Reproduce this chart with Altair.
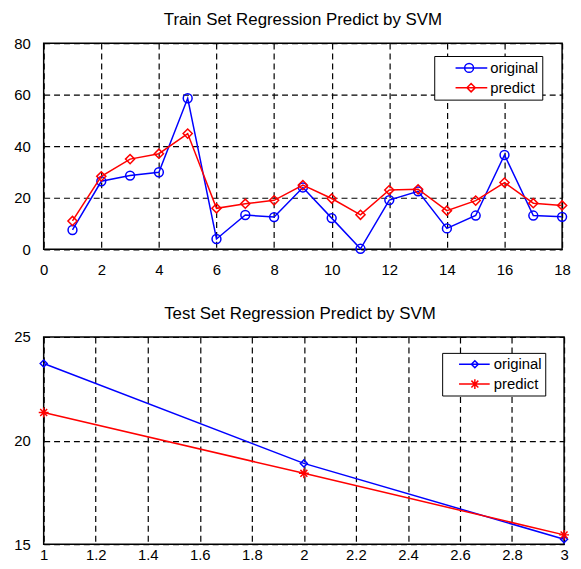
import altair as alt
import pandas as pd

# ---------------- data ----------------
series_names = ["original", "predict"]
series_colors = ["#0000ff", "#ff0000"]

train_x = list(range(1, 19))
train_original = [7.5, 26.4, 28.6, 29.9, 58.6, 4.0, 13.3, 12.5, 24.0, 12.1,
                  0.2, 19.1, 22.5, 8.1, 13.1, 36.6, 13.1, 12.6]
train_predict = [11.0, 28.3, 35.0, 37.1, 44.9, 15.9, 17.7, 19.0, 24.9, 19.7,
                 13.4, 23.0, 23.3, 15.0, 18.9, 25.9, 17.9, 17.0]
train_x_ticks = [0, 2, 4, 6, 8, 10, 12, 14, 16, 18]
train_y_ticks = [0, 20, 40, 60, 80]

test_x = [1, 2, 3]
test_original = [23.72, 18.9, 15.24]
test_predict = [21.36, 18.42, 15.45]
test_x_ticks = [1, 1.2, 1.4, 1.6, 1.8, 2, 2.2, 2.4, 2.6, 2.8, 3]
test_y_ticks = [15, 20, 25]

FONT = "Liberation Sans"


def long_df(xs, a, b):
    return pd.DataFrame({
        "x": list(xs) * 2,
        "y": list(a) + list(b),
        "series": [series_names[0]] * len(xs) + [series_names[1]] * len(xs),
    })


def panel(df, title, xdom, xticks, ydom, yticks, w, h, shapes, sizes,
          legend_paths, legend_x, legend_y, label_offset,
          legend_pad, row_pad, x_label_pad, title_dx, y_min_extent=None):
    yaxis_kw = dict(values=yticks, title=None)
    if y_min_extent is not None:
        yaxis_kw["minExtent"] = y_min_extent
    x = alt.X("x:Q", scale=alt.Scale(domain=xdom, nice=False, zero=False),
              axis=alt.Axis(values=xticks, format="~g", title=None,
                            labelPadding=x_label_pad))
    y = alt.Y("y:Q", scale=alt.Scale(domain=ydom, nice=False, zero=False),
              axis=alt.Axis(**yaxis_kw))
    layers = []
    for name, color, shape, size in zip(series_names, series_colors, shapes, sizes):
        sub = alt.Chart(df).transform_filter(alt.datum.series == name)
        layers.append(sub.mark_line(color=color, strokeWidth=1.5).encode(x=x, y=y))
        layers.append(sub.mark_point(shape=shape, filled=False, color=color, size=size,
                                     strokeWidth=1.5, opacity=1).encode(x=x, y=y))
    leg = dict(
        orient="none", legendX=legend_x, legendY=legend_y, title=None,
        strokeColor="black", fillColor="white", padding=legend_pad,
        rowPadding=row_pad, labelFont=FONT, labelFontSize=15, labelColor="black",
        labelOffset=label_offset, symbolSize=196, symbolStrokeWidth=1.5,
        symbolOpacity=1,
    )
    legend_layer = alt.Chart(df).transform_filter("false").mark_point(
        filled=False, strokeWidth=1.5, opacity=1
    ).encode(
        x=x, y=y,
        color=alt.Color("series:N", scale=alt.Scale(domain=series_names, range=series_colors),
                        legend=alt.Legend(**leg)),
        shape=alt.Shape("series:N", scale=alt.Scale(domain=series_names, range=legend_paths),
                        legend=alt.Legend(**leg)),
    )
    layers.append(legend_layer)
    return alt.layer(*layers).properties(
        width=w, height=h,
        title=alt.TitleParams(text=title, fontSize=17, font=FONT, fontWeight="normal",
                              color="black", anchor="middle", frame="group", dx=title_dx,
                              offset=7),
    )


# legend symbol paths (line segment + marker), units of 7 px
top_paths = [
    "M1.36,0H5.93M2.67,0A0.64,0.64 0 1,0 3.95,0A0.64,0.64 0 1,0 2.67,0",
    "M1.36,0H5.93M3.0,0L3.6,-0.6L4.2,0L3.6,0.6Z",
]
bot_paths = [
    "M0.79,0H5.21M2.57,0L3.07,-0.5L3.57,0L3.07,0.5Z",
    "M0.79,0H5.21M2.37,0H3.77M3.07,-0.7V0.7M2.57,-0.5L3.57,0.5M2.57,0.5L3.57,-0.5",
]
asterisk = "M-1,0H1M0,-1V1M-0.7,-0.7L0.7,0.7M-0.7,0.7L0.7,-0.7"

top = panel(long_df(train_x, train_original, train_predict),
            "Train Set Regression Predict by SVM",
            [0, 18], train_x_ticks, [0, 80], train_y_ticks, 523, 208,
            ["circle", "diamond"], [80, 85], top_paths,
            394, 13, 36.5, 4, 4, 13.5, 0)

bottom = panel(long_df(test_x, test_original, test_predict),
               "Test Set Regression Predict by SVM",
               [1, 3], test_x_ticks, [15, 25], test_y_ticks, 525, 209,
               ["diamond", asterisk], [50, 100], bot_paths,
               402, 16, 32.5, 3.5, 4, 3, -4, y_min_extent=33)

chart = alt.vconcat(top, bottom, spacing=25.5).resolve_scale(
    color="independent", shape="independent"
).resolve_legend(
    color="independent", shape="independent"
).properties(
    padding={"left": 2, "top": 0, "right": 0, "bottom": -6}
).configure_view(
    stroke="black", strokeWidth=1.5
).configure_axis(
    domain=False, ticks=False, grid=True, gridColor="black", gridDash=[6, 4],
    gridWidth=1.2, gridOpacity=1, labelFont=FONT, labelFontSize=15,
    labelColor="black", labelFlush=False
).configure_axisY(
    labelPadding=13.5
)

chart.save("out.html", embed_options={"renderer": "svg", "actions": False})
